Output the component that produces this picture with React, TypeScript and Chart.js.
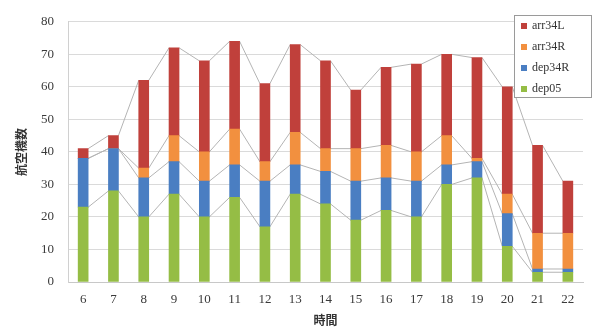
import React, { useEffect, useRef } from "react";
import { Chart, registerables } from "chart.js";

Chart.register(...registerables);

// Hourly aircraft counts per runway operation
const hours = ["6", "7", "8", "9", "10", "11", "12", "13", "14", "15", "16", "17", "18", "19", "20", "21", "22"];
const dep05 = [23, 28, 20, 27, 20, 26, 17, 27, 24, 19, 22, 20, 30, 32, 11, 3, 3];
const dep34R = [15, 13, 12, 10, 11, 10, 14, 9, 10, 12, 10, 11, 6, 5, 10, 1, 1];
const arr34R = [0, 0, 3, 8, 9, 11, 6, 10, 7, 10, 10, 9, 9, 1, 6, 11, 11];
const arr34L = [3, 4, 27, 27, 28, 27, 24, 27, 27, 18, 24, 27, 25, 31, 33, 27, 16];
const yTicks = [0, 10, 20, 30, 40, 50, 60, 70, 80];

const COLORS = {
  dep05: "#95bd45",
  dep34R: "#4a7ec2",
  arr34R: "#f2903f",
  arr34L: "#c0403b",
};

const serif = "'Liberation Serif', 'DejaVu Serif', serif";
const cjk = "'Noto Sans CJK JP', 'Noto Sans', sans-serif";

// Connector lines between the tops of each stacked segment (edge to edge)
const seriesLines = {
  id: "seriesLines",
  beforeDatasetsDraw(chart: any) {
    const ctx = chart.ctx;
    ctx.save();
    ctx.strokeStyle = "#b4b4b4";
    ctx.lineWidth = 1;
    chart.data.datasets.forEach((_: any, d: number) => {
      const meta = chart.getDatasetMeta(d);
      const els = meta.data;
      for (let i = 0; i < els.length - 1; i++) {
        const a = els[i].getProps(["x", "y", "width"], true);
        const b = els[i + 1].getProps(["x", "y", "width"], true);
        ctx.beginPath();
        ctx.moveTo(a.x + a.width / 2, a.y);
        ctx.lineTo(b.x - b.width / 2, b.y);
        ctx.stroke();
      }
    });
    ctx.restore();
  },
};

// Boxed legend in the upper right, listing the top segment first
const boxLegend = {
  id: "boxLegend",
  afterDraw(chart: any) {
    const ctx = chart.ctx;
    const x0 = 514;
    const y0 = 15;
    const w = 78;
    const h = 83;
    ctx.save();
    ctx.fillStyle = "#ffffff";
    ctx.fillRect(x0, y0, w, h);
    ctx.strokeStyle = "#9a9a9a";
    ctx.lineWidth = 1;
    ctx.strokeRect(x0 + 0.5, y0 + 0.5, w - 1, h - 1);
    const items = [...chart.data.datasets].reverse();
    ctx.font = `12px ${serif}`;
    ctx.textBaseline = "middle";
    items.forEach((ds: any, i: number) => {
      const cy = y0 + 11 + i * 21;
      ctx.fillStyle = ds.backgroundColor;
      ctx.fillRect(x0 + 7, cy - 3, 6, 6);
      ctx.fillStyle = "#333333";
      ctx.fillText(ds.label, x0 + 18, cy);
    });
    ctx.restore();
  },
};

export default function App() {
  const canvasRef = useRef<HTMLCanvasElement | null>(null);

  useEffect(() => {
    const canvas = canvasRef.current;
    if (!canvas) return;
    const chart = new Chart(canvas, {
      type: "bar",
      data: {
        labels: hours,
        datasets: [
          { label: "dep05", data: dep05, backgroundColor: COLORS.dep05 },
          { label: "dep34R", data: dep34R, backgroundColor: COLORS.dep34R },
          { label: "arr34R", data: arr34R, backgroundColor: COLORS.arr34R },
          { label: "arr34L", data: arr34L, backgroundColor: COLORS.arr34L },
        ],
      },
      options: {
        responsive: false,
        animation: false,
        devicePixelRatio: 1,
        layout: { padding: { left: 10, right: 10, top: 17, bottom: 0 } },
        datasets: { bar: { barThickness: 10, borderWidth: 0 } },
        plugins: {
          legend: { display: false },
          tooltip: { enabled: false },
        },
        scales: {
          x: {
            stacked: true,
            grid: { display: false, drawTicks: false },
            border: { color: "#c8c8c8" },
            ticks: { font: { family: serif, size: 13 }, color: "#3a3a3a", padding: 10 },
            title: {
              display: true,
              text: "時間",
              font: { family: cjk, size: 12, weight: "bold" },
              color: "#333333",
              padding: { top: 0, bottom: 1 },
            },
            afterFit(scale: any) {
              scale.height = 47;
            },
          },
          y: {
            stacked: true,
            min: 0,
            max: 80,
            afterBuildTicks(scale: any) {
              scale.ticks = yTicks.map((v) => ({ value: v }));
            },
            grid: { color: "#dadada", drawTicks: false },
            border: { color: "#d0d0d0" },
            ticks: { font: { family: serif, size: 13 }, color: "#3a3a3a", padding: 14 },
            title: {
              display: true,
              text: "航空機数",
              font: { family: cjk, size: 12, weight: "bold" },
              color: "#333333",
              padding: 4,
            },
            afterFit(scale: any) {
              scale.width = 58;
            },
          },
        },
      },
      plugins: [seriesLines, boxLegend],
    });
    return () => chart.destroy();
  }, []);

  return (
    <div style={{ position: "absolute", left: 0, top: 0, width: 593, height: 329, background: "#fff" }}>
      <canvas ref={canvasRef} width={593} height={329} />
    </div>
  );
}
